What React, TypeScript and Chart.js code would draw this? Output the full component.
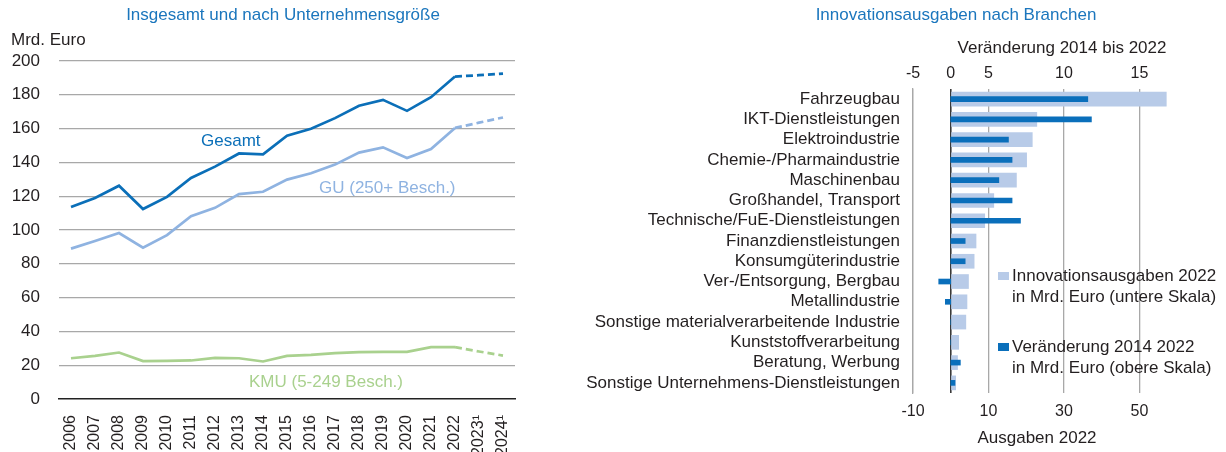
import React, { useEffect, useRef } from "react";
import { Chart, registerables } from "chart.js";

Chart.register(...registerables);

const FONT = "'Liberation Sans', Arial, Helvetica, sans-serif";
const TEXT = "#231f20";
const BLUE_TITLE = "#1b76bd";

// ---- Left chart data ----
const YEARS = ["2006", "2007", "2008", "2009", "2010", "2011", "2012", "2013", "2014", "2015", "2016", "2017", "2018", "2019", "2020", "2021", "2022", "2023\u00b9", "2024\u00b9"];
const GESAMT = [113.6, 119.0, 126.2, 112.4, 119.6, 130.8, 137.5, 145.3, 144.8, 155.8, 159.9, 166.2, 173.5, 177.0, 170.5, 178.6, 190.8, 191.6, 192.5];
const GU = [89.0, 93.5, 98.2, 89.5, 97.0, 108.2, 113.1, 121.2, 122.6, 129.8, 133.6, 138.7, 145.8, 148.9, 142.6, 147.9, 160.4, 163.5, 166.6];
const KMU = [24.1, 25.5, 27.5, 22.4, 22.6, 22.8, 24.3, 24.1, 22.2, 25.5, 26.1, 27.1, 27.7, 27.9, 27.9, 30.7, 30.7, 28.1, 25.7];
const LAST_ACTUAL_INDEX = 16; // 2022; 2023/2024 are projections (dashed)
const Y_MIN = 0;
const Y_MAX = 200;
const Y_STEP = 20;

// ---- Right chart data ----
const BRANCHEN = [
  "Fahrzeugbau",
  "IKT-Dienstleistungen",
  "Elektroindustrie",
  "Chemie-/Pharmaindustrie",
  "Maschinenbau",
  "Großhandel, Transport",
  "Technische/FuE-Dienstleistungen",
  "Finanzdienstleistungen",
  "Konsumgüterindustrie",
  "Ver-/Entsorgung, Bergbau",
  "Metallindustrie",
  "Sonstige materialverarbeitende Industrie",
  "Kunststoffverarbeitung",
  "Beratung, Werbung",
  "Sonstige Unternehmens-Dienstleistungen",
];
const AUSGABEN_2022 = [57.1, 22.8, 21.6, 20.1, 17.4, 11.4, 9.0, 6.7, 6.2, 4.7, 4.3, 4.0, 2.1, 1.8, 1.3];
const VERAENDERUNG = [11.4, 11.7, 4.8, 5.1, 4.0, 5.1, 5.8, 1.2, 1.2, -1.0, -0.45, 0, 0, 0.8, 0.35];
const BOTTOM_MIN = -10;
const BOTTOM_MAX = 70;
const BOTTOM_TICKS = [-10, 0, 10, 30, 50];
const BOTTOM_TICK_LABELS = ["-10", "", "10", "30", "50"];
const TOP_TICK_LABELS = ["-5", "0", "5", "10", "15"];
const TOP_PER_BOTTOM = 0.314; // scale ratio of upper (Veränderung) to lower (Ausgaben) axis

const C_GESAMT = "#0b6fb8";
const C_GU = "#8fb3e1";
const C_KMU = "#a9d18e";
const C_LIGHT = "#b8cbe8";
const C_DARK = "#0a6fbb";
const C_GRID = "#a8a8a8";

function zeroPad(s: any) {
  s.paddingLeft = 0;
  s.paddingRight = 0;
  s.paddingTop = 0;
  s.paddingBottom = 0;
}

function LeftChart() {
  const ref = useRef<HTMLCanvasElement>(null);
  useEffect(() => {
    const dash = (ctx: any) => (ctx.p0DataIndex >= LAST_ACTUAL_INDEX ? [7, 4] : undefined);
    const mk = (label: string, data: number[], color: string) => ({
      label,
      data,
      borderColor: color,
      backgroundColor: color,
      borderWidth: 2.7,
      pointRadius: 0,
      tension: 0,
      segment: { borderDash: dash },
    });
    const chart = new Chart(ref.current!, {
      type: "line",
      data: {
        labels: YEARS,
        datasets: [mk("Gesamt", GESAMT, C_GESAMT), mk("GU (250+ Besch.)", GU, C_GU), mk("KMU (5-249 Besch.)", KMU, C_KMU)],
      },
      options: {
        responsive: false,
        animation: false,
        devicePixelRatio: 1,
        layout: { padding: { top: 61, right: 45, left: 0, bottom: 0 } },
        plugins: { legend: { display: false }, tooltip: { enabled: false } },
        scales: {
          x: {
            type: "category",
            offset: true,
            grid: { display: false },
            border: { display: true, color: "#222", width: 1.6 },
            ticks: {
              autoSkip: false,
              minRotation: 90,
              maxRotation: 90,
              padding: 8,
              color: TEXT,
              font: { family: FONT, size: 16 },
            },
            afterFit: (s: any) => {
              s.height = 53;
              zeroPad(s);
            },
          },
          y: {
            min: Y_MIN,
            max: Y_MAX,
            ticks: { stepSize: Y_STEP, padding: 19, color: TEXT, font: { family: FONT, size: 17 } },
            grid: {
              drawTicks: false,
              color: (c: any) => (c.tick && c.tick.value === 0 ? "rgba(0,0,0,0)" : C_GRID),
              lineWidth: 1.3,
            },
            border: { display: false },
            afterFit: (s: any) => {
              s.width = 59;
              zeroPad(s);
            },
          },
        },
      },
    });
    return () => chart.destroy();
  }, []);
  return <canvas ref={ref} width={560} height={452} style={{ position: "absolute", left: 0, top: 0 }} />;
}

function RightChart() {
  const ref = useRef<HTMLCanvasElement>(null);
  useEffect(() => {
    const chart = new Chart(ref.current!, {
      type: "bar",
      data: {
        labels: BRANCHEN,
        datasets: [
          {
            label: "Innovationsausgaben 2022 in Mrd. Euro (untere Skala)",
            data: AUSGABEN_2022,
            xAxisID: "x",
            backgroundColor: C_LIGHT,
            barThickness: 14,
            grouped: false,
            order: 2,
          },
          {
            label: "Veränderung 2014 2022 in Mrd. Euro (obere Skala)",
            data: VERAENDERUNG,
            xAxisID: "x2",
            backgroundColor: C_DARK,
            barThickness: 5,
            grouped: false,
            order: 1,
          },
        ],
      },
      options: {
        indexAxis: "y",
        responsive: false,
        animation: false,
        devicePixelRatio: 1,
        layout: { padding: { top: 0, right: 11, left: 0, bottom: 0 } },
        plugins: { legend: { display: false }, tooltip: { enabled: false } },
        scales: {
          y: {
            type: "category",
            position: "left",
            grid: { display: false },
            border: { display: true, color: C_GRID, width: 1.3 },
            ticks: { autoSkip: false, padding: 5, color: TEXT, font: { family: FONT, size: 17 } },
            afterFit: (s: any) => {
              s.width = 333;
              zeroPad(s);
            },
          },
          x: {
            type: "linear",
            position: "bottom",
            min: BOTTOM_MIN,
            max: BOTTOM_MAX,
            afterBuildTicks: (s: any) => {
              s.ticks = BOTTOM_TICKS.map((v) => ({ value: v }));
            },
            ticks: {
              padding: 9,
              color: TEXT,
              font: { family: FONT, size: 16 },
              callback: (_v: any, i: number) => BOTTOM_TICK_LABELS[i],
            },
            grid: {
              drawTicks: false,
              color: (c: any) => (c.tick && c.tick.value === 0 ? "#3a3a3a" : C_GRID),
              lineWidth: (c: any) => (c.tick && c.tick.value === 0 ? 1.6 : 1.3),
            },
            border: { display: false },
            afterFit: (s: any) => {
              s.height = 59;
              zeroPad(s);
            },
          },
          x2: {
            type: "linear",
            position: "top",
            min: BOTTOM_MIN * TOP_PER_BOTTOM,
            max: BOTTOM_MAX * TOP_PER_BOTTOM,
            afterBuildTicks: (s: any) => {
              s.ticks = BOTTOM_TICKS.map((v) => ({ value: v * TOP_PER_BOTTOM }));
            },
            ticks: {
              padding: 6,
              color: TEXT,
              font: { family: FONT, size: 16 },
              callback: (_v: any, i: number) => TOP_TICK_LABELS[i],
            },
            grid: { display: false, drawTicks: false },
            border: { display: false },
            afterFit: (s: any) => {
              s.height = 89;
              zeroPad(s);
            },
          },
        },
      },
    });
    return () => chart.destroy();
  }, []);
  return <canvas ref={ref} width={646} height={452} style={{ position: "absolute", left: 580, top: 0 }} />;
}

const txt = (extra: React.CSSProperties): React.CSSProperties => ({
  position: "absolute",
  fontFamily: FONT,
  fontSize: 17,
  lineHeight: "20px",
  whiteSpace: "nowrap",
  color: TEXT,
  ...extra,
});

function Centered({ cx, top, color, children }: { cx: number; top: number; color?: string; children: React.ReactNode }) {
  return <div style={txt({ left: cx - 250, width: 500, top, textAlign: "center", color: color || TEXT })}>{children}</div>;
}

export default function App() {
  return (
    <div style={{ position: "absolute", left: 0, top: 0, width: 1226, height: 452, overflow: "hidden", background: "#fff" }}>
      <LeftChart />
      <RightChart />
      <Centered cx={283} top={5} color={BLUE_TITLE}>Insgesamt und nach Unternehmensgröße</Centered>
      <div style={txt({ left: 11, top: 30 })}>Mrd. Euro</div>
      <div style={txt({ left: 201, top: 131, color: C_GESAMT })}>Gesamt</div>
      <div style={txt({ left: 319, top: 178, color: C_GU })}>GU (250+ Besch.)</div>
      <div style={txt({ left: 249, top: 372, color: C_KMU })}>KMU (5-249 Besch.)</div>

      <Centered cx={956} top={5} color={BLUE_TITLE}>Innovationsausgaben nach Branchen</Centered>
      <Centered cx={1062} top={38}>Veränderung 2014 bis 2022</Centered>
      <Centered cx={1037} top={428}>Ausgaben 2022</Centered>

      <div style={{ position: "absolute", left: 998, top: 272, width: 11, height: 8, background: C_LIGHT }} />
      <div style={txt({ left: 1012, top: 266 })}>Innovationsausgaben 2022</div>
      <div style={txt({ left: 1012, top: 287 })}>in Mrd. Euro (untere Skala)</div>
      <div style={{ position: "absolute", left: 998, top: 343, width: 11, height: 8, background: C_DARK }} />
      <div style={txt({ left: 1012, top: 337 })}>Veränderung 2014 2022</div>
      <div style={txt({ left: 1012, top: 358 })}>in Mrd. Euro (obere Skala)</div>
    </div>
  );
}
